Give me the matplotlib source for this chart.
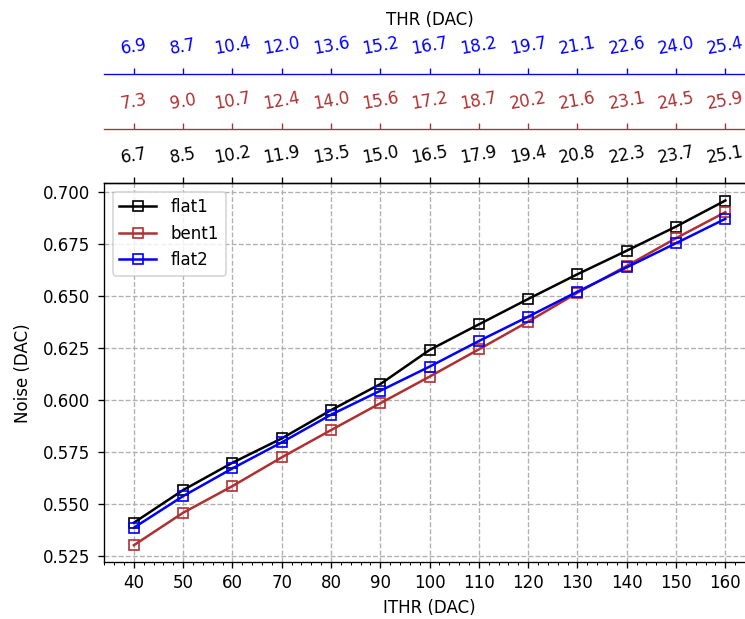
import matplotlib
matplotlib.use("Agg")
import matplotlib.pyplot as plt
from matplotlib.ticker import MultipleLocator

ithr = [40, 50, 60, 70, 80, 90, 100, 110, 120, 130, 140, 150, 160]
flat1 = [0.5409, 0.5566, 0.5697, 0.5814, 0.5950, 0.6075, 0.6239, 0.6362, 0.6484, 0.6603, 0.6716, 0.6832, 0.6957]
bent1 = [0.5301, 0.5457, 0.5585, 0.5723, 0.5854, 0.5983, 0.6111, 0.6242, 0.6375, 0.6514, 0.6643, 0.6776, 0.6901]
flat2 = [0.5385, 0.5537, 0.5670, 0.5795, 0.5928, 0.6043, 0.6159, 0.6282, 0.6399, 0.6519, 0.6636, 0.6752, 0.6869]

thr_flat1 = ["6.7", "8.5", "10.2", "11.9", "13.5", "15.0", "16.5", "17.9", "19.4", "20.8", "22.3", "23.7", "25.1"]
thr_bent1 = ["7.3", "9.0", "10.7", "12.4", "14.0", "15.6", "17.2", "18.7", "20.2", "21.6", "23.1", "24.5", "25.9"]
thr_flat2 = ["6.9", "8.7", "10.4", "12.0", "13.6", "15.2", "16.7", "18.2", "19.7", "21.1", "22.6", "24.0", "25.4"]

c_black = "black"
c_red = "#b03030"
c_blue = "blue"

DPI = 120
fig = plt.figure(figsize=(745 / DPI, 619 / DPI), dpi=DPI)
ax = fig.add_axes([0.1400, 0.0914, 0.8733, 0.6125])

ax.plot(ithr, flat1, "-s", color=c_black, mfc="none", label="flat1")
ax.plot(ithr, bent1, "-s", color=c_red, mfc="none", label="bent1")
ax.plot(ithr, flat2, "-s", color=c_blue, mfc="none", label="flat2")

ax.set_xticks(ithr)
ax.xaxis.set_minor_locator(MultipleLocator(2))
ax.tick_params(axis="y", pad=5.0)
ax.set_xlabel("ITHR (DAC)")
ax.set_ylabel("Noise (DAC)", labelpad=6.5)
ax.grid(True, linestyle="--", color="#b0b0b0")
ax.legend(loc="upper left", handlelength=2.2, handletextpad=0.9)
xlim = ax.get_xlim()

def top_axis(offset, labels, color, xlabel=None):
    a = ax.twiny()
    a.set_xlim(xlim)
    if offset:
        a.spines["top"].set_position(("outward", offset))
    a.set_xticks(ithr)
    a.set_xticklabels(labels)
    a.tick_params(axis="x", colors=color, labelrotation=10, pad=6.4)
    a.spines["top"].set_color(color)
    for s in ("left", "right", "bottom"):
        a.spines[s].set_visible(False)
    if xlabel:
        a.set_xlabel(xlabel, labelpad=5)
    return a

top_axis(0, thr_flat1, c_black)
top_axis(32.4, thr_bent1, c_red)
top_axis(65.6, thr_flat2, c_blue, "THR (DAC)")

fig.savefig("out.png", dpi=DPI)
